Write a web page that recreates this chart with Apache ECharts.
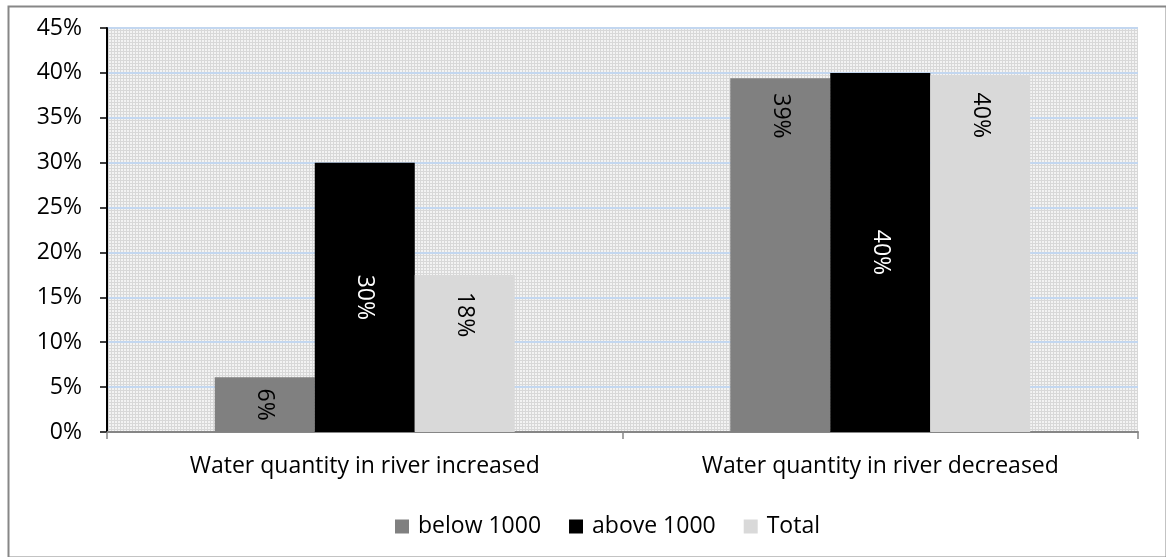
<!DOCTYPE html>
<html>
<head>
<meta charset="utf-8">
<script src="https://cdn.jsdelivr.net/npm/echarts@6/dist/echarts.min.js"></script>
<style>
html,body{margin:0;padding:0;background:#fff;}
#chart{width:1166px;height:557px;}
</style>
</head>
<body>
<div id="chart"></div>
<script>
// ---- data ----
const categories = ['Water quantity in river increased', 'Water quantity in river decreased'];
const seriesNames = ['below 1000', 'above 1000', 'Total'];
const below1000 = [6.1, 39.4];
const above1000 = [30.0, 40.0];
const total = [17.5, 39.7];
const yTicks = [0, 5, 10, 15, 20, 25, 30, 35, 40, 45];

// ---- styling ----
const FONT = 'Open Sans';
const FS = 23;
const colors = ['#808080', '#000000', '#d9d9d9'];
const labelColors = ['#000', '#fff', '#000'];
// label placement per series / category: 'mid' = centered, number = distance from top
const labelPlace = [[ 'mid', 15 ], [ 'mid', 'mid' ], [ 17, 17 ]];

// background pattern
const tile = document.createElement('canvas');
tile.width = 3; tile.height = 3;
const tc = tile.getContext('2d');
tc.fillStyle = '#f3f3f3'; tc.fillRect(0, 0, 3, 3);
tc.fillStyle = '#d8d8d8'; tc.fillRect(0, 0, 3, 1); tc.fillRect(0, 0, 1, 3);

function makeData(vals, si) {
  return vals.map((v, ci) => {
    const p = labelPlace[si][ci];
    const lbl = p === 'mid'
      ? { position: 'inside', align: 'center', verticalAlign: 'middle' }
      : { position: 'insideTop', distance: p, align: 'left', verticalAlign: 'middle' };
    return { value: v, label: lbl };
  });
}

const allVals = [below1000, above1000, total];
const chart = echarts.init(document.getElementById('chart'));
chart.setOption({
  animation: false,
  textStyle: { fontFamily: FONT },
  graphic: [{
    type: 'rect', left: 6, top: 4,
    shape: { width: 1158, height: 551 },
    style: { fill: 'none', stroke: '#878787', lineWidth: 2 }, silent: true
  }],
  grid: {
    left: 107, right: 28, top: 28, bottom: 125,
    show: true, borderWidth: 0,
    backgroundColor: { image: tile, repeat: 'repeat' }
  },
  legend: {
    left: 390, top: 510,
    icon: 'rect', itemWidth: 14, itemHeight: 14, itemGap: 28,
    data: seriesNames,
    textStyle: { fontFamily: FONT, fontSize: FS, color: '#000', padding: [0, 0, 0, 4] }
  },
  xAxis: {
    type: 'category',
    data: categories,
    axisLine: { lineStyle: { color: '#868686', width: 2 } },
    axisTick: { show: true, length: 7, lineStyle: { color: '#868686', width: 1.5 } },
    axisLabel: { fontFamily: FONT, fontSize: FS, color: '#000', margin: 23 }
  },
  yAxis: {
    type: 'value',
    min: yTicks[0], max: yTicks[yTicks.length - 1], interval: yTicks[1] - yTicks[0],
    axisLine: { show: true, lineStyle: { color: '#000', width: 2 } },
    axisTick: { show: true, length: 7, lineStyle: { color: '#000', width: 1.5 } },
    axisLabel: { fontFamily: FONT, fontSize: FS, color: '#000', margin: 25, formatter: '{value}%' },
    splitLine: { show: true, lineStyle: { color: '#c3d7f0', width: 2 } }
  },
  series: seriesNames.map((name, si) => ({
    name: name,
    type: 'bar',
    barWidth: 100,
    barGap: '0%',
    itemStyle: { color: colors[si] },
    label: {
      show: true, rotate: -90,
      fontFamily: FONT, fontSize: FS, color: labelColors[si],
      formatter: p => Math.round(p.value) + '%'
    },
    z: 3,
    data: makeData(allVals[si], si)
  }))
});
</script>
</body>
</html>
